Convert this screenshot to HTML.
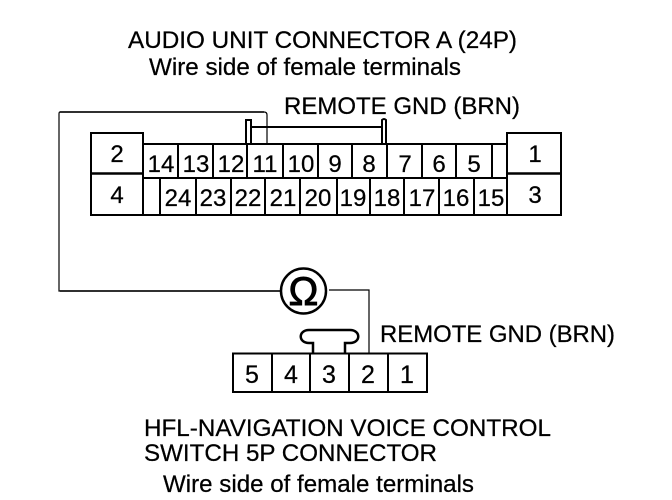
<!DOCTYPE html>
<html><head><meta charset="utf-8"><style>
html,body{margin:0;padding:0;background:#fff}
svg{display:block}
text{font-family:"Liberation Sans",sans-serif;font-size:24px;fill:#000;stroke:#000;stroke-width:.25px}
.n{text-anchor:middle}
.m{font-size:24px}
</style></head><body>
<svg width="672" height="500" viewBox="0 0 672 500" xmlns="http://www.w3.org/2000/svg">
<text x="128" y="48" textLength="389" lengthAdjust="spacingAndGlyphs">AUDIO UNIT CONNECTOR A (24P)</text>
<text x="149" y="75" textLength="312" lengthAdjust="spacingAndGlyphs">Wire side of female terminals</text>
<text x="284" y="114" textLength="236" lengthAdjust="spacingAndGlyphs">REMOTE GND (BRN)</text>
<text x="380" y="342" textLength="235" lengthAdjust="spacingAndGlyphs">REMOTE GND (BRN)</text>
<text x="144" y="436" textLength="407" lengthAdjust="spacingAndGlyphs">HFL-NAVIGATION VOICE CONTROL</text>
<text x="144" y="461" textLength="293" lengthAdjust="spacingAndGlyphs">SWITCH 5P CONNECTOR</text>
<text x="163" y="492" textLength="311" lengthAdjust="spacingAndGlyphs">Wire side of female terminals</text>

<g fill="none" stroke="#000" stroke-width="2">
<path d="M91 133H143V215H91Z"/>
<path d="M91 173.500H143" stroke-width="2.500"/>
<path d="M507 133H561V215H507Z"/>
<path d="M507 173.500H561" stroke-width="2.500"/>
<path d="M143 144H507"/>
<path d="M143 178H507"/>
<path d="M143 215H507"/>
<path d="M178 144V178M213 144V178M247 144V178M283 144V178M318 144V178M352 144V178M387 144V178M422 144V178M456 144V178M492 144V178"/>
<path d="M160 178V215M196 178V215M231 178V215M265 178V215M300 178V215M337 178V215M370 178V215M404 178V215M439 178V215M474 178V215"/>
<path d="M246 144V120H251V144"/>
<path d="M251 127H382"/>
<path d="M382 144V120Q384 118 386 120V144"/>
<path d="M233 353.500H427V392H233Z"/>
<path d="M272 353V392M310 353V392M349 353V392M388 353V392"/>
<path d="M313 353V343H309C298 343 298 330 309 330H350C361 330 361 343 350 343H345V353" stroke-width="2.500"/>
<circle cx="303.500" cy="291" r="22.500" stroke-width="2.500"/>
</g>
<g fill="none" stroke="#000" stroke-width="1.200">
<path d="M267 144V115Q267 112 264 112H60Q59 112 59 114V291H281"/>
<path d="M329 290H369V353"/>
</g>
<path d="M60 291H281M60 112H264" stroke="#000" stroke-width="1.500" fill="none"/>

<text class="n" x="117" y="162">2</text>
<text class="n" x="117" y="203">4</text>
<text class="n" x="535" y="162">1</text>
<text class="n" x="535" y="203">3</text>
<text class="n m" x="161" y="172">14</text>
<text class="n m" x="196" y="172">13</text>
<text class="n m" x="231" y="172">12</text>
<text class="n m" x="265" y="172">11</text>
<text class="n m" x="301" y="172">10</text>
<text class="n m" x="335" y="172">9</text>
<text class="n m" x="369" y="172">8</text>
<text class="n m" x="405" y="172">7</text>
<text class="n m" x="439" y="172">6</text>
<text class="n m" x="474" y="172">5</text>
<text class="n m" x="178" y="206">24</text>
<text class="n m" x="213" y="206">23</text>
<text class="n m" x="248" y="206">22</text>
<text class="n m" x="283" y="206">21</text>
<text class="n m" x="318" y="206">20</text>
<text class="n m" x="353" y="206">19</text>
<text class="n m" x="387" y="206">18</text>
<text class="n m" x="422" y="206">17</text>
<text class="n m" x="456" y="206">16</text>
<text class="n m" x="491" y="206">15</text>
<text class="n" x="252" y="383" style="font-size:25px">5</text>
<text class="n" x="291" y="383" style="font-size:25px">4</text>
<text class="n" x="329" y="383" style="font-size:25px">3</text>
<text class="n" x="368" y="383" style="font-size:25px">2</text>
<text class="n" x="407" y="383" style="font-size:25px">1</text>
<text class="n" x="303.500" y="305" style="font-size:40px;stroke-width:.9px">Ω</text>
</svg>
</body></html>
